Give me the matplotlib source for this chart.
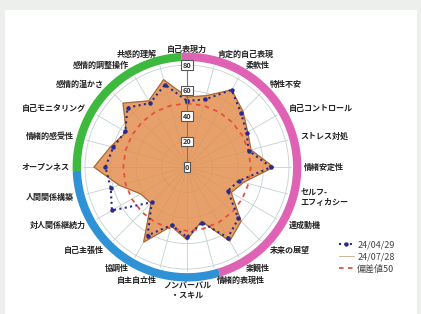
import numpy as np
import matplotlib
matplotlib.use("Agg")
import matplotlib.pyplot as plt
from matplotlib.patches import Rectangle
from matplotlib.lines import Line2D

plt.rcParams['font.family'] = ['Noto Sans CJK JP', 'DejaVu Sans']

# clockwise from the top axis
labels = ['自己表現力', '肯定的自己表現', '柔軟性', '特性不安', '自己コントロール',
          'ストレス対処', '情緒安定性', 'セルフ-\nエフィカシー', '達成動機', '未来の展望',
          '楽観性', '情緒的表現性', 'ノンバーバル\n・スキル', '自主自立性', '協調性',
          '自己主張性', '対人関係継続力', '人間関係構築', 'オープンネス', '情緒的感受性',
          '自己モニタリング', '感情的温かさ', '感情的調整操作', '共感的理解']
score_0429 = [52, 55, 70, 60, 54, 50, 66, 42, 37, 57, 64, 45,
              55, 47, 62, 39, 68, 62, 64, 60, 56, 66, 58, 67]
score_0728 = [55, 58, 70, 62, 55, 52, 68, 46, 40, 60, 67, 44,
              57, 48, 68, 40, 42, 55, 73, 62, 55, 71, 60, 71]
baseline = [50] * 24
r_ticks = [0, 20, 40, 60, 80]
legend_names = ['24/04/29', '24/07/28', '偏差値50']
# coloured outer ring: (start deg, end deg, colour)
ring_parts = [(-3, 163, '#E062B4'), (163, 268, '#2F92D6'), (268, 357, '#3DBA3D')]

n = len(labels)
theta = np.deg2rad(np.arange(n) * 360.0 / n)
th_closed = np.append(theta, theta[0])

def closed(v):
    return np.append(v, v[0])

fig = plt.figure(figsize=(4.21, 3.14), dpi=100, facecolor='#EDEFEC')
fig.patches.append(Rectangle((0.012, 0.0), 0.978, 0.968, transform=fig.transFigure,
                             facecolor='white', edgecolor='none', zorder=-5))

ax = fig.add_axes([0.196, 0.135, 0.4964, 0.6656], projection='polar')
ax.set_facecolor('none')
ax.set_theta_zero_location('N')
ax.set_theta_direction(-1)
ax.set_ylim(0, 82)
ax.set_xticks(theta)
ax.set_xticklabels([])
ax.set_yticks([20, 40, 60, 80])
ax.set_yticklabels([])
ax.grid(True, color='#c5d0d0', linewidth=0.6)
ax.spines['polar'].set_visible(False)

# data
ax.fill(th_closed, closed(score_0728), color='#E39050', alpha=0.85, zorder=2)
ax.plot(th_closed, closed(score_0728), color='#9C6638', linewidth=0.7, zorder=3)
ax.plot(th_closed, closed(baseline), color='#E8503A', linestyle=(0, (2.5, 2.5)),
        linewidth=1.3, zorder=4)
ax.plot(th_closed, closed(score_0429), color='#2B2A8C', linestyle=(0, (1, 1.6)),
        linewidth=1.5, marker='o', markersize=2.2, zorder=5)

# radial axis on top with boxed values
ax.plot([0, 0], [0, 80], color='#777777', linewidth=0.8, zorder=6)
for r in r_ticks:
    ax.text(0, r, str(r), ha='center', va='center', fontsize=5.2, color='#333333',
            fontweight='bold', zorder=7,
            bbox=dict(boxstyle='square,pad=0.18', fc='white', ec='#555555', lw=0.8))

# outer coloured ring
for a0, a1, col in ring_parts:
    tt = np.deg2rad(np.linspace(a0, a1, 200))
    ax.plot(tt, np.full_like(tt, 86.5), color=col, linewidth=6,
            solid_capstyle='butt', clip_on=False, zorder=1)

# category labels
for t, lab in zip(theta, labels):
    s = np.sin(t)
    if abs(s) < 0.05:
        ha = 'center'
    elif s > 0:
        ha = 'left'
    else:
        ha = 'right'
    rr = 97 if np.cos(t) < -0.99 else 92
    ax.text(t, rr, lab, ha=ha, va='center', fontsize=5.8, color='#222222',
            fontweight='bold', linespacing=1.1, clip_on=False, zorder=8)

handles = [Line2D([], [], color='#2B2A8C', linestyle=(0, (1, 1.6)), linewidth=1.5,
                  marker='o', markersize=2.2),
           Line2D([], [], color='#C9B79A', linewidth=0.7),
           Line2D([], [], color='#E8503A', linestyle=(0, (2.5, 2.5)), linewidth=1.3)]
fig.legend(handles, legend_names, loc='upper left', bbox_to_anchor=(0.795, 0.25),
           frameon=False, fontsize=6.5, handlelength=1.6, handletextpad=0.4,
           labelspacing=0.35, borderpad=0, labelcolor='#444444')

fig.savefig('out.png', dpi=100, facecolor=fig.get_facecolor())
